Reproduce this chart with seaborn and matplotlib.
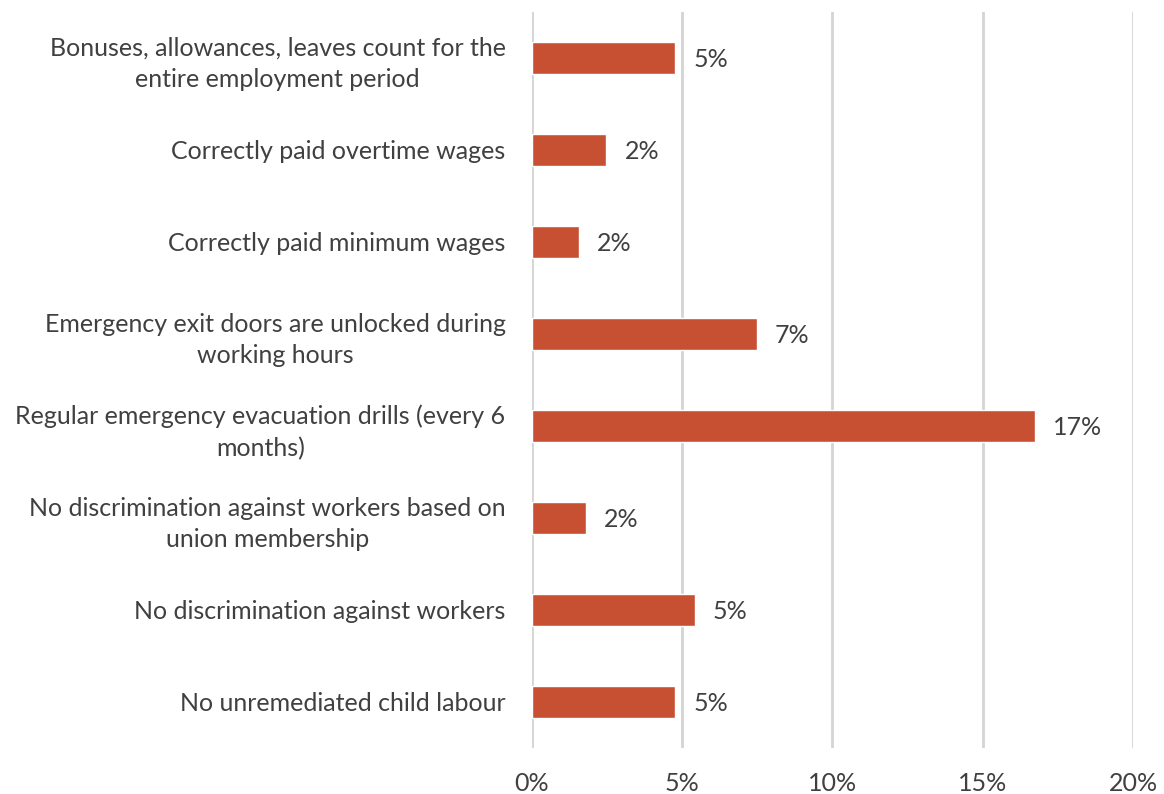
import matplotlib
matplotlib.use("Agg")
import matplotlib.pyplot as plt
from matplotlib.ticker import PercentFormatter
import seaborn as sns
import pandas as pd

categories = [
    "Bonuses, allowances, leaves count for the\nentire employment period",
    "Correctly paid overtime wages",
    "Correctly paid minimum wages",
    "Emergency exit doors are unlocked during\nworking hours",
    "Regular emergency evacuation drills (every 6\nmonths)",
    "No discrimination against workers based on\nunion membership",
    "No discrimination against workers",
    "No unremediated child labour",
]
shares = [0.0476, 0.0248, 0.0156, 0.0749, 0.1674, 0.0180, 0.0542, 0.0476]
x_ticks = [0, 0.05, 0.10, 0.15, 0.20]

sns.set_style("white")
plt.rcParams["font.family"] = ["Lato", "DejaVu Sans"]

df = pd.DataFrame({"category": categories, "share": shares})

fig = plt.figure(figsize=(11.64, 7.94), dpi=100)
ax = fig.add_axes([0.457, 0.058, 0.5164, 0.927])

sns.barplot(data=df, y="category", x="share", orient="h", color="#C85032",
            saturation=1, width=0.35, ax=ax)

text_color = "#404040"
for c in ax.containers:
    labels = ax.bar_label(c, labels=[f"{v:.0%}" for v in df["share"]], padding=13,
                          fontsize=18, color=text_color)
    for t in labels:
        t.set_va("center_baseline")

ax.set_xlim(0, 0.20)
ax.set_xticks(x_ticks)
ax.xaxis.set_major_formatter(PercentFormatter(1.0, decimals=0))
ax.grid(axis="x", color="#D4D4D4", linewidth=2)
ax.set_axisbelow(True)
for s in ax.spines.values():
    s.set_visible(False)

ax.set_xlabel("")
ax.set_ylabel("")
ax.tick_params(axis="x", length=0, pad=17, labelsize=18, labelcolor=text_color)
ax.tick_params(axis="y", length=0, pad=19, labelsize=18, labelcolor=text_color)
for lbl in ax.get_yticklabels():
    lbl.set_multialignment("center")
    lbl.set_linespacing(1.45)

fig.savefig("out.png", dpi=100)
